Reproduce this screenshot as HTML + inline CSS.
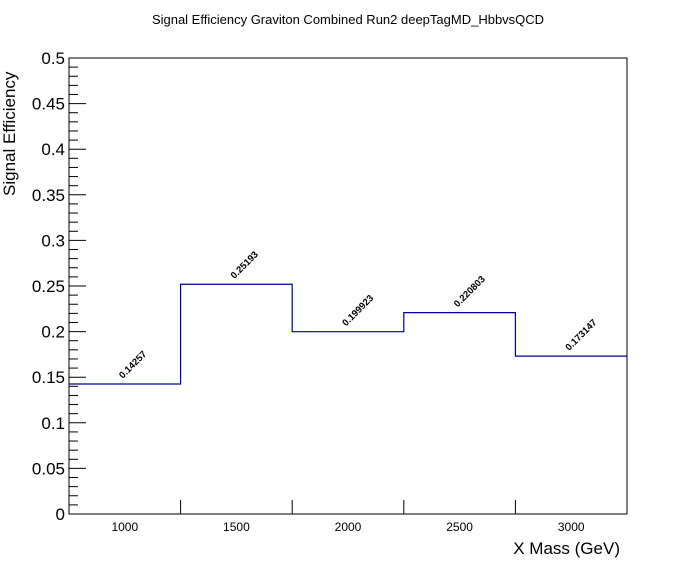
<!DOCTYPE html>
<html><head><meta charset="utf-8"><style>
body{margin:0;background:#fff;}
svg{display:block;font-family:"Liberation Sans",Arial,sans-serif;}
</style></head><body>
<svg id="c" width="696" height="572">
<rect x="0" y="0" width="696" height="572" fill="#fff"/>
<text x="348" y="24" font-size="13" text-anchor="middle">Signal Efficiency Graviton Combined Run2 deepTagMD_HbbvsQCD</text>
<text x="620" y="554" font-size="17" text-anchor="end">X Mass (GeV)</text>
<text transform="translate(15,196) rotate(-90)" font-size="17" text-anchor="start">Signal Efficiency</text>
<g id="ax"></g>
</svg>
<script>
const binCenters=[1000,1500,2000,2500,3000];
const efficiency=[0.14257,0.25193,0.199923,0.220803,0.173147];
const valueLabels=["0.14257","0.25193","0.199923","0.220803","0.173147"];
const xTickLabels=[1000,1500,2000,2500,3000];
const yTickLabels=["0","0.05","0.1","0.15","0.2","0.25","0.3","0.35","0.4","0.45","0.5"];
const L=69,R=627,T=58,B=514,xmin=750,xmax=3250,ymin=0,ymax=0.5,bw=500;
const X=v=>L+(v-xmin)/(xmax-xmin)*(R-L);
const Y=v=>B-(v-ymin)/(ymax-ymin)*(B-T);
const NS="http://www.w3.org/2000/svg";
const g=document.getElementById('ax');
function mk(t,a){const e=document.createElementNS(NS,t);for(const k in a)e.setAttribute(k,a[k]);g.appendChild(e);return e;}
const fr=mk('rect',{x:L,y:T,width:R-L,height:B-T,fill:'none',stroke:'#000','stroke-width':1});


// y ticks
for(let i=0;i<=50;i++){const v=i*0.01;const y=Y(v);const major=i%5===0;
 const t=mk('line',{x1:L,x2:L+(major?17:9),y1:y,y2:y,stroke:'#000','stroke-width':1});
 
 }
yTickLabels.forEach((s,i)=>{const e=mk('text',{x:L-4,y:Y(i*0.05)+6,'font-size':17,'text-anchor':'end'});e.textContent=s;
 
 });
// x ticks at bin edges
for(let i=1;i<binCenters.length;i++){const x=X(binCenters[i]-bw/2);
 const t=mk('line',{x1:x,x2:x,y1:B,y2:B-14,stroke:'#000','stroke-width':1});
 
 }
xTickLabels.forEach(v=>{const e=mk('text',{x:X(v),y:B+17,'font-size':12,'text-anchor':'middle'});e.textContent=v;
 
 });
// histogram
let d='';
binCenters.forEach((c,i)=>{const x0=X(c-bw/2),x1=X(c+bw/2),y=Y(efficiency[i]);
 d+=(i===0?'M'+x0+','+y:'L'+x0+','+y)+'L'+x1+','+y;});
const p=mk('path',{d:d,fill:'none',stroke:'#0000a0','stroke-width':1.2});


binCenters.forEach((c,i)=>{const x=X(c)-2,y=Y(efficiency[i])-5;
 const e=mk('text',{x:x,y:y,'font-size':9.5,'font-weight':'bold',transform:`rotate(-45 ${x} ${y})`});
 e.textContent=valueLabels[i];
 
 });
</script>
</body></html>
